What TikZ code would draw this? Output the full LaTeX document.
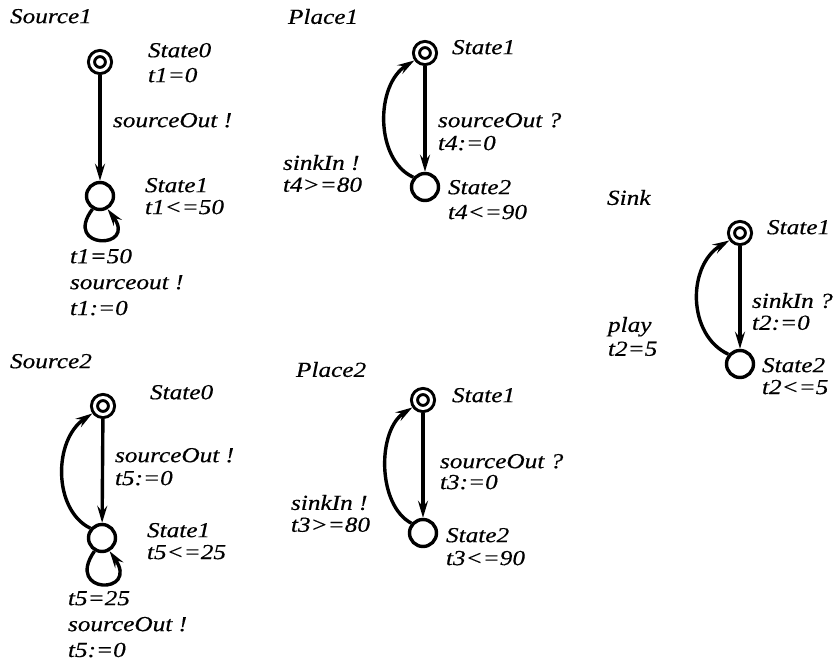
\documentclass[tikz,border=0pt]{standalone}
\usepackage{fontspec}
\setmainfont[FakeStretch=1.18,FakeBold=0.4]{Liberation Serif}
\usetikzlibrary{arrows.meta}
\begin{document}
\begin{tikzpicture}[x=1bp,y=-1bp,
  txt/.style={anchor=north west, align=left, inner sep=0, outer sep=0, font=\fontsize{21.5}{25}\selectfont\itshape},
  st/.style={circle, draw, line width=3.4bp, minimum size=27bp, inner sep=0},
  ist/.style={circle, draw, double, double distance=3bp, line width=3bp, minimum size=17bp, inner sep=0, outer sep=4.5bp},
  arr/.style={line width=3.4bp, -{Stealth[length=17bp,width=10bp,inset=6bp]}}
]
\useasboundingbox (0,0) rectangle (836,669);

% ---------- Source1 ----------
\node[txt] (ts1) at (10,9) {Source1};
\node[ist] (s1a) at (100,62) {};
\node[st]  (s1b) at (100,196) {};
\node[txt] (l1a) at (148,43) {State0\\t1=0};
\node[txt] (l1b) at (113,113) {sourceOut !};
\node[txt] (l1c) at (145,178) {State1\\[-3bp]t1<=50};
\node[txt] (l1d) at (70,249) {t1=50\\[1bp]sourceout !\\[1bp]t1:=0};
\draw[arr] (s1a) -- (s1b);
\draw[arr] (s1b.240) .. controls (62,250) and (138,250) .. (s1b.300);

% ---------- Place1 ----------
\node[txt] (tp1) at (288,9) {Place1};
\node[ist] (p1a) at (425,53) {};
\node[st]  (p1b) at (425,187) {};
\node[txt] (l2a) at (452,40) {State1};
\node[txt] (l2b) at (438,113) {sourceOut ?\\[-2bp]t4:=0};
\node[txt] (l2c) at (448,180) {State2\\t4<=90};
\node[txt] (l2d) at (283,155) {sinkIn !\\[-3bp]t4>=80};
\draw[arr] (p1a) -- (p1b);
\draw[arr] (p1b.140) .. controls (375,160) and (375,85) .. (p1a.215);

% ---------- Sink ----------
\node[txt] (tsk) at (607,190) {Sink};
\node[ist] (k1) at (740,233) {};
\node[st]  (k2) at (740,364) {};
\node[txt] (l3a) at (767,220) {State1};
\node[txt] (l3b) at (752,293) {sinkIn ?\\[-3bp]t2:=0};
\node[txt] (l3c) at (608,317) {play\\[-1bp]t2=5};
\node[txt] (l3d) at (762,358) {State2\\[-3bp]t2<=5};
\draw[arr] (k1) -- (k2);
\draw[arr] (k2.140) .. controls (687,335) and (687,265) .. (k1.215);

% ---------- Source2 ----------
\node[txt] (ts2) at (10,354) {Source2};
\node[ist] (s2a) at (103,406) {};
\node[st]  (s2b) at (102,538) {};
\node[txt] (l4a) at (150,385) {State0};
\node[txt] (l4b) at (115,448) {sourceOut !\\[-2bp]t5:=0};
\node[txt] (l4c) at (147,523) {State1\\[-3bp]t5<=25};
\node[txt] (l4d) at (68,591) {t5=25\\[1bp]sourceOut !\\[1bp]t5:=0};
\draw[arr] (s2a) -- (s2b);
\draw[arr] (s2b.140) .. controls (53,510) and (53,440) .. (s2a.215);
\draw[arr] (s2b.240) .. controls (64,595) and (140,595) .. (s2b.300);

% ---------- Place2 ----------
\node[txt] (tp2) at (296,362) {Place2};
\node[ist] (p2a) at (423,400) {};
\node[st]  (p2b) at (423,533) {};
\node[txt] (l5a) at (452,388) {State1};
\node[txt] (l5b) at (440,454) {sourceOut ?\\[-4bp]t3:=0};
\node[txt] (l5c) at (446,528) {State2\\[-2bp]t3<=90};
\node[txt] (l5d) at (291,495) {sinkIn !\\[-3bp]t3>=80};
\draw[arr] (p2a) -- (p2b);
\draw[arr] (p2b.140) .. controls (377,505) and (377,430) .. (p2a.215);
\end{tikzpicture}
\end{document}
